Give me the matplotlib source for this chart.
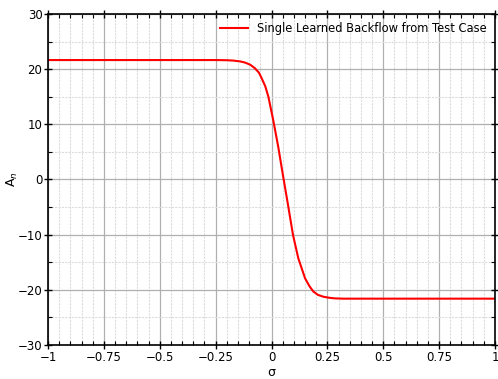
import matplotlib
matplotlib.use("Agg")
import matplotlib.pyplot as plt
from matplotlib.ticker import MultipleLocator, FuncFormatter

# values
sigma = [-1.0, -0.25, -0.2, -0.17, -0.14, -0.119, -0.095, -0.074, -0.056,
         -0.044, -0.028, -0.014, 0.0075, 0.030, 0.0515, 0.0738, 0.0962,
         0.12, 0.15, 0.17, 0.187, 0.207, 0.232, 0.26, 0.284, 0.32, 0.358,
         1.0]
a_n = [21.65, 21.65, 21.62, 21.55, 21.4, 21.2, 20.8, 20.15, 19.35,
       18.35, 16.9, 15.0, 10.8, 5.95, 0.7, -4.6, -10.06,
       -14.3, -17.9, -19.35, -20.3, -20.9, -21.25, -21.45, -21.55, -21.6,
       -21.6, -21.6]

label = "Single Learned Backflow from Test Case"

fig = plt.figure(figsize=(4.98, 3.79), dpi=100)
ax = fig.add_axes([0.0964, 0.0897, 0.8976, 0.8734])

ax.plot(sigma, a_n, color="red", lw=1.5, label=label)

ax.set_xlim(-1, 1)
ax.set_ylim(-30, 30)
ax.xaxis.set_major_locator(MultipleLocator(0.25))
ax.xaxis.set_minor_locator(MultipleLocator(0.05))
ax.yaxis.set_major_locator(MultipleLocator(10))
ax.yaxis.set_minor_locator(MultipleLocator(5))
fmt = FuncFormatter(lambda v, p: ("%g" % v).replace("-", "\u2212"))
ax.xaxis.set_major_formatter(fmt)
ax.yaxis.set_major_formatter(fmt)

ax.grid(which="major", color="#b0b0b0", lw=0.9)
ax.grid(which="minor", color="#dcdcdc", lw=0.8, ls=(0, (2, 1)))
ax.set_axisbelow(True)

ax.tick_params(which="major", direction="inout", length=6, width=1,
               top=True, right=True, labelsize=8.5, pad=1)
ax.tick_params(which="minor", direction="in", length=3, width=0.8,
               top=True, right=True)
for s in ax.spines.values():
    s.set_linewidth(1.2)

ax.set_xlabel("\u03c3", fontsize=9, labelpad=2)
ax.set_ylabel("A$_n$", fontsize=9)
ax.yaxis.set_label_coords(-0.062, 0.5)

ax.legend(loc="upper right", frameon=False, fontsize=8.3,
          handlelength=2.4, borderaxespad=0.3)

fig.savefig("out.png", dpi=100)
